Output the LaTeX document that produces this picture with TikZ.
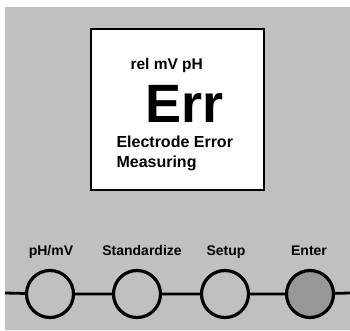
\documentclass[tikz,border=0pt]{standalone}
\usepackage{fontspec}
\setmainfont{Liberation Sans}
\usetikzlibrary{positioning}
\definecolor{panel}{HTML}{C0C0C0}
\definecolor{keydown}{HTML}{989898}

\begin{document}
\begin{tikzpicture}[x=1pt,y=-1pt,
    key/.style={circle,draw,line width=3.2pt,fill=panel,minimum size=47pt,inner sep=0pt},
    keylabel/.style={anchor=base,font=\fontsize{14}{16}\selectfont\bfseries},
    lcd/.style={anchor=base west,font=\fontsize{#1}{#1}\selectfont\bfseries}]
  \useasboundingbox (0,0) rectangle (350,330);
  \fill[white] (0,0) rectangle (350,330);
  % panel
  \fill[panel] (5,7) rectangle (350,330);
  % display
  \draw[line width=2.5pt,fill=white] (91,29) rectangle (264,190);
  \node[lcd=15.5] (units) at (127,69) {rel mV pH};
  \node[lcd=54] (err) at (142,122) {Err};
  \node[lcd=16] (msg1) at (113,147) {Electrode Error};
  \node[lcd=16] (msg2) at (113,167) {Measuring};
  % keys
  \coordinate (left) at (5,293);
  \coordinate (right) at (350,293);
  \node[key] (phmv) at (50,294) {};
  \node[key] (std) at (137,294) {};
  \node[key] (setup) at (225,294) {};
  \node[key,fill=keydown] (enter) at (310,294) {};
  \draw[line width=2.8pt] (left) -- (phmv) -- (std) -- (setup) -- (enter) -- (right);
  \node[keylabel] (lphmv) at (51,255) {pH/mV};
  \node[keylabel] (lstd) at (142,255) {Standardize};
  \node[keylabel] (lsetup) at (226,255) {Setup};
  \node[keylabel] (lenter) at (309,255) {Enter};
\end{tikzpicture}
\end{document}
